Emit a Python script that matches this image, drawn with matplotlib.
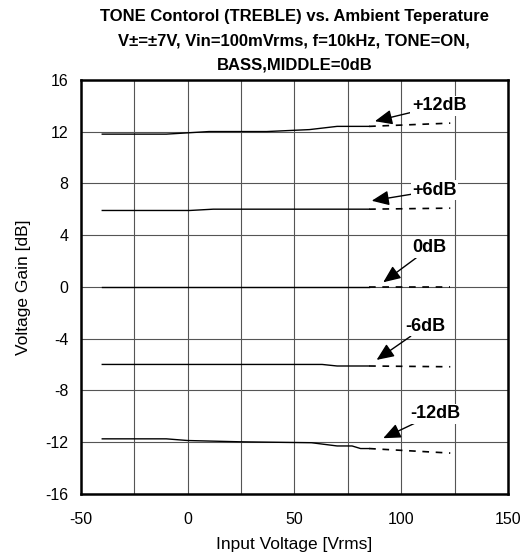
import matplotlib.pyplot as plt

plt.rcParams['font.family'] = ['Liberation Sans', 'DejaVu Sans']
plt.rcParams['axes.unicode_minus'] = False

# measured data (solid) and extrapolated part (dashed), per TREBLE setting
x_p12 = [-40, -10, 10, 37, 57, 70, 85]
y_p12 = [11.8, 11.8, 12.0, 12.0, 12.15, 12.4, 12.4]
x_p6 = [-40, 1, 12, 85]
y_p6 = [5.9, 5.9, 6.0, 6.0]
x_0 = [-40, 85]
y_0 = [0.0, 0.0]
x_m6 = [-40, 63, 70, 85]
y_m6 = [-6.0, -6.0, -6.12, -6.12]
x_m12 = [-40, -10, 0, 25, 58, 70, 77, 81, 85]
y_m12 = [-11.75, -11.75, -11.88, -11.98, -12.05, -12.3, -12.3, -12.5, -12.5]

x_ext = [85, 123]
y_ext_p12 = [12.4, 12.65]
y_ext_p6 = [6.0, 6.08]
y_ext_0 = [0.0, 0.0]
y_ext_m6 = [-6.12, -6.18]
y_ext_m12 = [-12.5, -12.85]

labels = ['+12dB', '+6dB', '0dB', '-6dB', '-12dB']
label_xy = [(105, 14.0), (105.3, 7.45), (105.3, 3.0), (101.8, -3.05), (104.1, -9.8)]
arrow_tip = [(87.7, 12.8), (86.2, 6.65), (91.6, 0.35), (88.5, -5.65), (91.6, -11.7)]

fig = plt.figure(figsize=(5.22, 5.58), dpi=100)
ax = fig.add_axes([0.155, 0.115, 0.818, 0.742])

for xs, ys, ye in [(x_p12, y_p12, y_ext_p12), (x_p6, y_p6, y_ext_p6), (x_0, y_0, y_ext_0),
                   (x_m6, y_m6, y_ext_m6), (x_m12, y_m12, y_ext_m12)]:
    ax.plot(xs, ys, color='black', lw=1.0, zorder=3)
    ax.plot(x_ext, ye, color='black', lw=1.2, ls=(0, (4, 4)), zorder=3)

for lab, (tx, ty), (ax_, ay) in zip(labels, label_xy, arrow_tip):
    ax.annotate(lab, xy=(ax_, ay), xytext=(tx, ty), fontsize=13, fontweight='bold',
                ha='left', va='center', zorder=4,
                bbox=dict(facecolor='white', edgecolor='none', pad=1),
                arrowprops=dict(arrowstyle='-|>,head_length=0.7,head_width=0.3',
                                color='black', lw=1.0, mutation_scale=15,
                                shrinkA=0, shrinkB=0))

ax.set_xlim(-50, 150)
ax.set_ylim(-16, 16)
ax.set_xticks(range(-50, 151, 25), minor=False)
ax.set_xticklabels(['-50', '', '0', '', '50', '', '100', '', '150'])
ax.set_yticks(range(-16, 17, 4))
ax.tick_params(length=0, labelsize=11.5)
ax.tick_params(axis='x', pad=13)
ax.tick_params(axis='y', pad=9)
ax.grid(True, color='#555555', lw=0.8, zorder=0)
for s in ax.spines.values():
    s.set_linewidth(1.8)

ax.set_xlabel('Input Voltage [Vrms]', fontsize=12.5, labelpad=7)
ax.set_ylabel('Voltage Gain [dB]', fontsize=12.5, labelpad=10)

title = ('TONE Contorol (TREBLE) vs. Ambient Teperature\n'
         'V\u00b1=\u00b17V, Vin=100mVrms, f=10kHz, TONE=ON,\n'
         'BASS,MIDDLE=0dB')
fig.text(0.564, 0.983, title, ha='center', va='top', fontsize=12,
         fontweight='bold', linespacing=1.75)

fig.savefig('out.png', dpi=100)
